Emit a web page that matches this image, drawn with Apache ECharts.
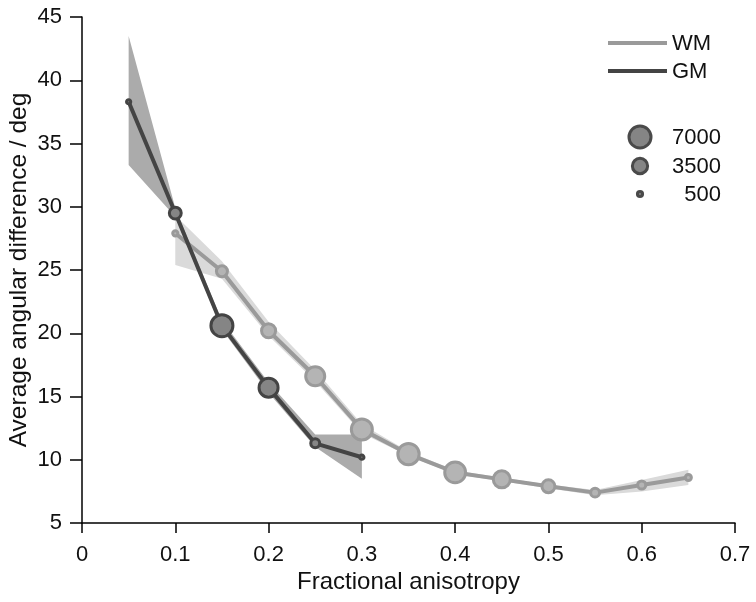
<!DOCTYPE html>
<html>
<head>
<meta charset="utf-8">
<script src="https://cdn.jsdelivr.net/npm/echarts@6/dist/echarts.min.js"></script>
<style>
html,body{margin:0;padding:0;background:#fff;}
#chart{width:756px;height:602px;}
</style>
</head>
<body>
<div id="chart"></div>
<script>
// ---- Data ----
const xTicks = [0, 0.1, 0.2, 0.3, 0.4, 0.5, 0.6, 0.7];
const yTicks = [5, 10, 15, 20, 25, 30, 35, 40, 45];

const wmFA  = [0.1, 0.15, 0.2, 0.25, 0.3, 0.35, 0.4, 0.45, 0.5, 0.55, 0.6, 0.65];
const wmMean = [27.9, 24.9, 20.2, 16.6, 12.4, 10.45, 9.0, 8.45, 7.9, 7.4, 8.0, 8.6];
const wmLow  = [25.4, 24.3, 19.8, 16.2, 12.1, 10.3, 8.85, 8.3, 7.75, 7.2, 7.5, 8.0];
const wmHigh = [29.3, 25.7, 20.9, 17.1, 12.8, 10.65, 9.15, 8.6, 8.05, 7.6, 8.4, 9.2];
const wmCount = [500, 1900, 3000, 5300, 6400, 6600, 6300, 4300, 2600, 1300, 1100, 650];

const gmFA  = [0.05, 0.1, 0.15, 0.2, 0.25, 0.3];
const gmMean = [38.3, 29.5, 20.6, 15.7, 11.3, 10.2];
const gmLow  = [33.3, 29.2, 20.3, 15.3, 11.0, 8.5];
const gmHigh = [43.5, 29.9, 21.0, 16.1, 12.0, 12.0];
const gmCount = [360, 2200, 7000, 5300, 1300, 360];

const legendSeries = ['WM', 'GM'];
const legendCounts = [7000, 3500, 500];

// ---- Styles ----
const WM_LINE = '#9a9a9a', WM_FILL = '#b4b4b4', WM_BAND = '#dadada';
const GM_LINE = '#444444', GM_FILL = '#858585', GM_BAND = '#ababab';
const FONT = 'Liberation Sans, Arial, Helvetica, sans-serif';
const BORDER = 3;
function sizeOf(n) { return 0.275 * Math.sqrt(n) - 1; }

function bandSeries(xs, lo, hi, color) {
  const data = xs.map((x, i) => [x, lo[i], hi[i]]);
  return {
    type: 'custom',
    silent: true,
    z: 1,
    data: data,
    encode: { x: 0, y: [1, 2] },
    renderItem: function (params, api) {
      if (params.dataIndex !== 0) return null;
      const pts = [];
      for (let i = 0; i < data.length; i++) pts.push(api.coord([data[i][0], data[i][2]]));
      for (let i = data.length - 1; i >= 0; i--) pts.push(api.coord([data[i][0], data[i][1]]));
      return { type: 'polygon', shape: { points: pts }, style: { fill: color, stroke: null } };
    }
  };
}

function lineSeries(name, xs, ys, counts, lineColor, fillColor, z) {
  return {
    name: name,
    type: 'line',
    z: z,
    data: xs.map((x, i) => [x, ys[i], counts[i]]),
    symbol: 'circle',
    showSymbol: true,
    symbolSize: function (v) { return sizeOf(v[2]); },
    lineStyle: { color: lineColor, width: 4 },
    itemStyle: { color: fillColor, borderColor: lineColor, borderWidth: BORDER },
    emphasis: { disabled: true },
    animation: false
  };
}

const chart = echarts.init(document.getElementById('chart'), null, { renderer: 'canvas' });

// Legend graphics
const graphics = [];
const lineColors = [WM_LINE, GM_LINE];
const legendLineY = [43, 71];
legendSeries.forEach((name, i) => {
  graphics.push({ type: 'line', shape: { x1: 608, y1: legendLineY[i], x2: 667, y2: legendLineY[i] },
    style: { stroke: lineColors[i], lineWidth: 4 } });
  graphics.push({ type: 'text', x: 672, y: legendLineY[i] + 1,
    style: { text: name, font: '22px ' + FONT, fill: '#111', textVerticalAlign: 'middle', textAlign: 'left' } });
});
const legendCircleY = [137, 166, 194];
legendCounts.forEach((n, i) => {
  graphics.push({ type: 'circle', shape: { cx: 640, cy: legendCircleY[i], r: sizeOf(n) / 2 },
    style: { fill: GM_FILL, stroke: '#4a4a4a', lineWidth: BORDER } });
  graphics.push({ type: 'text', x: 721, y: legendCircleY[i] + 1,
    style: { text: String(n), font: '22px ' + FONT, fill: '#111', textVerticalAlign: 'middle', textAlign: 'right' } });
});

chart.setOption({
  animation: false,
  backgroundColor: '#fff',
  grid: { left: 82, right: 21, top: 17, bottom: 79, containLabel: false, outerBoundsMode: 'none' },
  xAxis: {
    type: 'value', min: 0, max: 0.7, interval: 0.1,
    name: 'Fractional anisotropy', nameLocation: 'middle', nameGap: 47, nameMoveOverlap: false,
    nameTextStyle: { fontFamily: FONT, fontSize: 24, color: '#111' },
    axisLine: { show: true, onZero: false, lineStyle: { color: '#000', width: 1.5 } },
    axisTick: { show: true, length: 10, inside: false, lineStyle: { color: '#000', width: 1.5 } },
    axisLabel: { fontFamily: FONT, fontSize: 22, color: '#111', margin: 21,
      formatter: function (v) { const t = xTicks.find(t => Math.abs(t - v) < 1e-9); return t === undefined ? '' : String(t); } },
    splitLine: { show: false }
  },
  yAxis: {
    type: 'value', min: 5, max: 45, interval: 5,
    name: 'Average angular difference / deg', nameLocation: 'middle', nameGap: 50, nameRotate: 90, nameMoveOverlap: false,
    nameTextStyle: { fontFamily: FONT, fontSize: 24.5, color: '#111' },
    axisLine: { show: true, onZero: false, lineStyle: { color: '#000', width: 1.5 } },
    axisTick: { show: true, length: 12, inside: false, lineStyle: { color: '#000', width: 1.5 } },
    axisLabel: { fontFamily: FONT, fontSize: 22, color: '#111', margin: 20,
      formatter: function (v) { return yTicks.indexOf(v) >= 0 ? String(v) : ''; } },
    splitLine: { show: false }
  },
  series: [
    bandSeries(wmFA, wmLow, wmHigh, WM_BAND),
    bandSeries(gmFA, gmLow, gmHigh, GM_BAND),
    lineSeries('WM', wmFA, wmMean, wmCount, WM_LINE, WM_FILL, 3),
    lineSeries('GM', gmFA, gmMean, gmCount, GM_LINE, GM_FILL, 4)
  ],
  graphic: graphics
});
</script>
</body>
</html>
